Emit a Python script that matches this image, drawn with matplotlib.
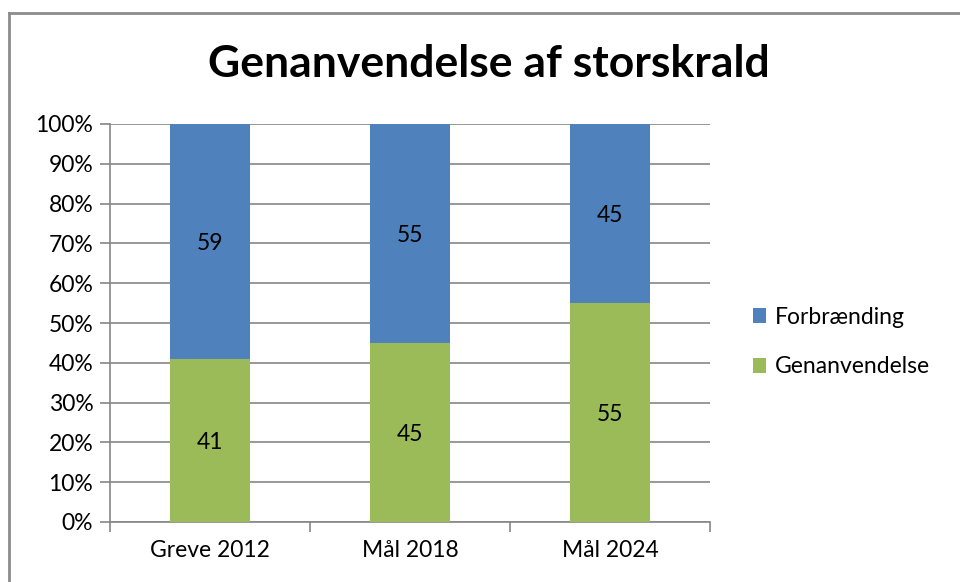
import numpy as np
import matplotlib.pyplot as plt
from matplotlib.lines import Line2D

categories = ['Greve 2012', 'Mål 2018', 'Mål 2024']
genanvendelse = [41, 45, 55]
forbraending = [59, 55, 45]
y_ticks = [0, 10, 20, 30, 40, 50, 60, 70, 80, 90, 100]

plt.rcParams['font.family'] = ['Lato', 'DejaVu Sans']

blue = '#4F81BD'
green = '#9BBB59'
grid = '#868686'
fs = 16.5

fig = plt.figure(figsize=(9.6, 5.82), dpi=100)
ax = fig.add_axes([110 / 960, 1 - 522 / 582, 600 / 960, 398 / 582])

x = np.arange(len(categories))
b1 = ax.bar(x, genanvendelse, width=0.4, color=green, zorder=3, label='Genanvendelse')
b2 = ax.bar(x, forbraending, width=0.4, bottom=genanvendelse, color=blue, zorder=3, label='Forbrænding')

for rect, v in zip(b1, genanvendelse):
    ax.text(rect.get_x() + rect.get_width() / 2, v / 2, str(v), ha='center', va='center_baseline',
            fontsize=fs, color='black', zorder=4)
for rect, base, v in zip(b2, genanvendelse, forbraending):
    ax.text(rect.get_x() + rect.get_width() / 2, base + v / 2, str(v), ha='center', va='center_baseline',
            fontsize=fs, color='black', zorder=4)

ax.set_xlim(-0.5, len(categories) - 0.5)
ax.set_ylim(0, 100)
ax.set_yticks(y_ticks)
ax.set_yticklabels([f'{t}%' for t in y_ticks], fontsize=fs)
ax.set_xticks(x)
ax.set_xticklabels(categories, fontsize=fs)
ax.tick_params(axis='x', length=0, pad=13)
ax.tick_params(axis='y', length=7, color=grid, width=1.2, pad=5)
# category separator ticks
ax.set_xticks(np.arange(-0.5, len(categories)), minor=True)
ax.tick_params(axis='x', which='minor', length=7, color=grid, width=1.2)

ax.yaxis.grid(True, color=grid, linewidth=1.2, zorder=0)
for s in ['top', 'right']:
    ax.spines[s].set_visible(False)
for s in ['left', 'bottom']:
    ax.spines[s].set_color(grid)
    ax.spines[s].set_linewidth(1.2)

fig.text(489 / 960, 1 - 64 / 582, 'Genanvendelse af storskrald', ha='center', va='center',
         fontsize=32, fontweight='bold')

handles = [b2, b1]
leg = fig.legend(handles, ['Forbrænding', 'Genanvendelse'], loc='center left',
                 bbox_to_anchor=(732 / 960, 1 - 342 / 582), frameon=False, fontsize=fs,
                 handlelength=0.6, handleheight=0.6, handletextpad=0.35, labelspacing=1.25)

# chart border
fig.add_artist(Line2D([9 / 960, 9 / 960], [0, 1 - 13 / 582], color='#8c8c8c', lw=2))
fig.add_artist(Line2D([9 / 960, 1], [1 - 13 / 582, 1 - 13 / 582], color='#8c8c8c', lw=2))

fig.savefig('out.png', dpi=100)
